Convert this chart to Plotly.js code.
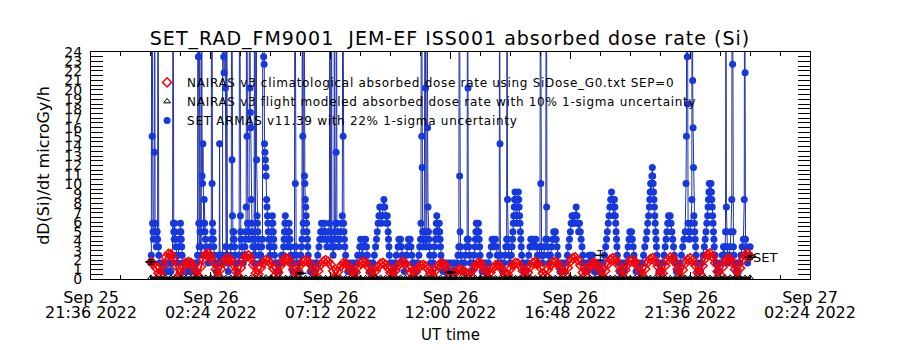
<!DOCTYPE html>
<html><head><meta charset="utf-8">
<script src="https://cdn.plot.ly/plotly-3.0.1.min.js"></script>
<style>
html,body{margin:0;padding:0;background:#fff}
#chart{width:900px;height:350px}
.legendtext{letter-spacing:0.7px}
.gtitle{letter-spacing:1px}
</style>
</head><body><div id="chart"></div>
<script>
const titleText = 'SET_RAD_FM9001  JEM-EF ISS001 absorbed dose rate (Si)';
const yTitle = 'dD(Si)/dt microGy/h';
const xTitle = 'UT time';
const seriesNames = [
  'NAIRAS v3 climatological absorbed dose rate using SiDose_G0.txt SEP=0',
  'NAIRAS v3 flight modeled absorbed dose rate with 10% 1-sigma uncertainty',
  'SET ARMAS v11.39 with 22% 1-sigma uncertainty'
];
const dayStartUTC = '2022-09-26T00:00:00Z';
const xRange = ['2022-09-25 21:36:00', '2022-09-27 02:24:00'];
const xTick0 = '2022-09-25 21:36:00';
const yRange = [0, 24];

// NAIRAS climatological (red), one value every 6 minutes from Sep 26 00:00 UT
const redStepMin = 6;
const redValues = [
  1.8,1.6,1.2,0.6,0.5,1.5,2.3,2.65,2.6,2.2,
  1.4,0.3,0.7,1.3,1.7,1.8,1.7,1.3,0.7,0.3,
  1.3,2.1,2.6,2.7,2.4,1.8,1.0,0.3,1.05,1.7,
  2.1,2.2,2.0,1.5,0.8,0.3,1.2,2.0,2.4,2.5,
  2.2,1.5,0.6,0.5,1.2,1.7,2.0,1.95,1.65,1.1,
  0.4,0.7,1.45,2.0,2.2,2.1,1.65,1.0,0.15,0.85,
  1.5,1.85,2.0,1.85,1.5,0.85,0.15,0.85,1.5,1.85,
  2.0,1.85,1.5,0.85,0.15,0.8,1.35,1.65,1.65,1.4,
  0.9,0.25,0.7,1.3,1.7,1.8,1.7,1.3,0.7,0.25,
  0.85,1.3,1.6,1.7,1.5,1.15,0.65,0.25,0.9,1.4,
  1.7,1.8,1.6,1.25,0.7,0.2,0.75,1.15,1.45,1.5,
  1.35,1.05,0.6,0.25,0.9,1.4,1.65,1.65,1.4,0.9,
  0.25,0.45,0.75,0.95,1.0,0.9,0.7,0.4,0.35,1.0,
  1.45,1.7,1.65,1.3,0.8,0.15,0.7,1.15,1.45,1.5,
  1.3,0.95,0.45,0.45,1.05,1.5,1.7,1.65,1.35,0.85,
  0.25,0.7,1.3,1.7,1.8,1.65,1.2,0.6,0.35,1.0,
  1.45,1.75,1.8,1.6,1.15,0.6,0.45,1.2,1.85,2.2,
  2.3,2.0,1.45,0.7,0.35,1.0,1.45,1.7,1.65,1.4,
  0.9,0.25,0.85,1.55,2.05,2.2,2.05,1.55,0.85,0.25,
  0.95,1.55,1.9,2.0,1.8,1.35,0.75,0.3,1.05,1.75,
  2.1,2.2,1.9,1.35,0.55,0.6,1.4,2.0,2.3,2.2,
  1.75,1.05,0.15,0.95,1.65,2.05,2.2,1.95,1.45,0.7,
  0.5,1.4,2.15,2.6,2.7,2.35,1.7,0.8,0.45,1.25,
  1.9,2.15,2.1,1.7,1.0,0.15,1.15,2.0,2.55,2.7,
  2.4
];

// NAIRAS flight modeled (black), one value every 12 minutes
const blackStepMin = 12;
const blackValues = [
  0.12,0.1,0.08,0.1,0.14,0.1,0.08,0.12,0.1,0.08,
  0.1,0.12,0.14,0.1,0.08,0.1,0.12,0.1,0.08,0.12,
  0.1,0.08,0.1,0.14,0.12,0.1,0.08,0.1,0.12,0.1,
  0.08,0.1,0.12,0.14,0.1,0.08,0.1,0.12,0.1,0.08,
  0.1,0.12,0.1,0.08,0.1,0.14,0.12,0.1,0.08,0.1,
  0.12,0.1,0.08,0.1,0.12,0.14,0.1,0.08,0.1,0.12,
  0.1,0.08,0.1,0.12,0.1,0.08,0.14,0.12,0.1,0.08,
  0.1,0.12,0.1,0.08,0.1,0.12,0.14,0.1,0.08,0.1,
  0.12,0.1,0.08,0.1,0.14,0.12,0.1,0.08,0.1,0.12,
  0.1,0.08,0.1,0.12,0.14,0.1,0.08,0.1,0.12,0.1,
  0.08,0.1,0.12,0.1,0.08,0.1,0.14,0.12,0.1,0.08,
  0.1,0.12,0.1,0.08,0.1,0.12,0.14,0.1,0.08,0.1,
  0.12
];

// six-hourly flight-model points with uncertainty bars (black)
const blackBarMin = [0, 360, 720, 1080, 1440];
const blackBarValues = [1.8, 0.6, 0.7, 2.5, 2.3];
const blackBarErr = [0.25, 0.1, 0.1, 0.5, 0.2];

// SET ARMAS (blue): [minutes after Sep 26 00:00 UT, dose rate]
const bluePoints = [
  [0,1.7],[1,2.5],[2,45],[3,15.1],[4,5.9],[5,5.0],[6,4.2],[7,5.9],[8,13.4],[9,50],[10,5.0],[11,5.9],[12,4.2],[13,3.4],[15,5.0],[16,4.2],[17,40],[18,3.4],[19,2.5],[21,1.7],[24,0.8],
  [27,1.7],[30,0.8],[33,1.7],[36,0.8],[39,1.7],[42,0.8],[45,1.7],[48,0.8],
  [50,1.7],[52,2.5],[53,40],[54,5.9],[55,5.0],[56,4.2],[57,5.9],[58,5.0],[59,4.2],[60,3.4],[62,2.5],[64,1.7],[66,2.5],[68,3.4],[69,4.2],[70,5.0],[71,5.9],[72,5.0],[73,4.2],[74,3.4],[75,2.5],[76,1.7],[78,0.8],
  [81,1.7],[84,0.8],[87,1.7],[90,0.8],[93,1.7],[96,0.8],[99,1.7],[102,0.8],[105,1.7],[108,0.8],
  [110,1.7],[112,2.5],[113,45],[114,23.5],[115,5.9],[116,3.4],[117,40],[118,5.0],[119,3.4],[121,2.5],[122,50],[123,10.9],[124,10.1],[125,14.3],[126,5.9],[127,5.0],[128,8.4],[129,5.9],[130,5.0],[131,4.2],[133,3.4],[135,2.5],
  [138,1.7],[141,2.5],[143,3.4],[145,4.2],[146,60],[147,10.1],[148,5.9],[149,5.0],[150,4.2],[151,3.4],[152,2.5],[154,1.7],[157,0.8],
  [160,1.7],[162,2.5],[164,1.7],[165,14.3],[166,2.5],[167,1.7],[168,2.5],[170,1.7],[172,2.5],[173,45],[175,23.5],[176,21.8],[177,50],[179,20.2],[180,3.4],[181,2.5],[182,40],[183,2.5],[184,1.7],[186,0.8],
  [189,1.7],[191,2.5],[193,3.4],[194,40],[195,12.6],[196,6.7],[197,5.0],[198,4.2],[199,5.0],[200,4.2],[201,3.4],[202,2.5],[204,1.7],[207,0.8],[210,1.7],
  [212,2.5],[213,40],[215,6.7],[216,5.0],[217,4.2],[218,3.4],[220,2.5],[222,1.7],[224,2.5],
  [226,3.4],[227,4.2],[228,5.0],[229,7.6],[230,40],[231,15.1],[232,5.9],[233,5.0],[234,5.9],[235,5.0],[236,4.2],[237,50],[238,20.2],[239,17.6],[240,16.0],[241,8.4],[242,5.9],[243,5.0],[244,4.2],[245,3.4],[246,2.5],
  [248,1.7],[249,40],[251,2.5],[252,3.4],[253,45],[254,12.6],[255,6.7],[256,5.9],[257,5.0],[258,4.2],[259,3.4],[260,2.5],[262,1.7],
  [264,2.5],[266,3.4],[268,4.2],[270,60],[271,23.5],[272,22.7],[273,14.3],[274,13.4],[275,12.6],[276,11.8],[277,10.9],[278,8.4],[279,7.6],[280,6.7],[281,5.9],[282,5.0],[283,4.2],[284,3.4],[286,2.5],
  [288,3.4],[289,4.2],[290,5.0],[291,5.9],[292,6.7],[293,5.9],[294,5.0],[295,4.2],[296,3.4],[297,2.5],[299,1.7],[302,0.8],[305,1.7],[308,0.8],[311,1.7],[314,2.5],
  [316,1.7],[318,2.5],[319,3.4],[320,4.2],[321,5.0],[322,5.9],[323,6.7],[324,5.9],[325,5.0],[327,4.2],[329,3.4],[330,4.2],[331,5.0],[332,5.9],[333,5.0],[334,4.2],[335,3.4],[336,2.5],[338,1.7],[341,0.8],
  [343,1.7],[345,2.5],[346,45],[347,10.1],[348,3.4],[349,2.5],[351,1.7],[354,0.8],[357,1.7],[360,2.5],
  [362,3.4],[363,4.2],[364,40],[365,15.1],[366,5.9],[367,5.0],[368,45],[369,10.9],[370,10.1],[371,8.4],[372,7.6],[373,6.7],[374,5.9],[375,5.0],[376,4.2],[377,3.4],[378,2.5],[380,1.7],[383,0.8],[386,1.7],[389,0.8],[392,1.7],[395,0.8],[398,1.7],[401,2.5],
  [404,3.4],[406,4.2],[408,5.0],[410,5.9],[412,5.0],[413,4.2],[415,5.0],[417,5.9],[419,5.0],[421,4.2],[423,3.4],[425,4.2],[427,5.0],[429,5.9],[430,40],[431,5.0],[432,4.2],[433,3.4],[434,45],[435,4.2],[436,3.4],
  [438,2.5],[440,3.4],[441,50],[442,4.2],[443,5.0],[444,5.9],[445,13.4],[446,50],[447,5.9],[448,5.0],
  [450,4.2],[452,3.4],[454,4.2],[456,5.0],[458,5.9],[460,6.7],[461,40],[462,15.1],[463,5.9],[464,5.0],[465,4.2],[466,3.4],[468,2.5],[470,1.7],[473,0.8],[476,1.7],[479,0.8],[482,1.7],[485,0.8],[488,1.7],[491,0.8],[494,1.7],[497,2.5],
  [500,2.5],[502,3.4],[504,4.2],[506,3.4],[508,2.5],[510,3.4],[512,4.2],[514,3.4],[516,4.2],[518,3.4],[520,2.5],[522,1.7],[525,0.8],[528,1.7],[531,0.8],[534,1.7],[537,2.5],
  [540,3.4],[542,4.2],[544,5.0],[546,5.9],[548,6.7],[550,7.6],[552,6.7],[554,5.9],[556,6.7],[558,7.6],[560,8.4],[562,7.6],[564,6.7],[566,5.9],[568,6.7],[569,5.9],[570,5.0],[571,4.2],[572,3.4],[573,2.5],[575,1.7],[578,0.8],[581,1.7],[584,0.8],[587,1.7],[590,2.5],
  [594,3.4],[596,4.2],[598,3.4],[600,4.2],[602,3.4],[604,2.5],[606,1.7],[609,0.8],[612,1.7],[615,2.5],[617,3.4],[619,4.2],[621,3.4],[623,4.2],[625,3.4],[627,2.5],[629,1.7],[632,0.8],[635,1.7],[638,0.8],[641,1.7],[644,2.5],
  [646,3.4],[648,4.2],[649,5.9],[650,45],[651,15.1],[652,11.8],[653,5.0],[654,4.2],[655,3.4],[656,4.2],[657,5.0],[659,40],[660,20.2],[661,3.4],[662,4.2],[663,5.0],[664,45],[665,16.0],[666,7.6],[667,5.0],[668,4.2],[669,3.4],[670,2.5],[672,1.7],[675,0.8],
  [678,1.7],[680,2.5],[682,3.4],[684,4.2],[685,5.0],[686,5.9],[687,6.7],[688,5.9],[689,5.0],[691,4.2],[692,5.0],[693,5.9],[694,5.0],[695,4.2],[696,3.4],[697,2.5],[699,1.7],[702,0.8],[705,1.7],[708,0.8],[711,1.7],[714,0.8],[717,1.7],[720,0.8],[723,1.7],[726,0.8],[729,1.7],[732,0.8],[735,1.7],[738,2.5],
  [740,3.4],[741,40],[742,10.9],[743,5.0],[744,3.4],[745,2.5],[747,1.7],[750,0.8],[753,1.7],[756,2.5],[758,3.4],[760,4.2],[761,50],[762,20.2],[763,4.2],[764,3.4],[766,2.5],[768,1.7],[771,0.8],[774,1.7],[777,2.5],[779,3.4],[780,4.2],[781,5.0],[782,5.9],[783,5.0],[784,4.2],[786,5.0],[787,5.9],[788,5.0],[789,4.2],[790,3.4],[791,2.5],[793,1.7],[796,0.8],[799,1.7],[802,0.8],[805,1.7],[808,0.8],[811,1.7],[814,2.5],
  [818,3.4],[820,4.2],[822,3.4],[824,4.2],[826,3.4],[828,4.2],[830,3.4],[832,2.5],[835,1.7],[837,2.5],[838,40],[839,14.3],[840,2.5],[842,1.7],[845,0.8],[848,1.7],[851,2.5],[853,3.4],[855,4.2],[856,45],[857,8.4],[858,4.2],[859,3.4],[861,2.5],[863,1.7],[866,2.5],[868,3.4],[869,4.2],[870,5.0],[871,5.9],[872,6.7],[873,7.6],[874,8.4],[875,9.2],[876,8.4],[877,7.6],[878,6.7],[879,5.9],[880,6.7],[881,7.6],[882,8.4],[883,9.2],[884,8.4],[885,7.6],[886,6.7],[887,5.9],[888,5.0],[889,4.2],[890,3.4],[891,2.5],[893,1.7],[896,0.8],[899,1.7],[902,0.8],[905,1.7],[908,2.5],
  [911,3.4],[913,4.2],[915,3.4],[917,4.2],[919,3.4],[921,4.2],[923,3.4],[925,4.2],[927,3.4],[929,2.5],[931,1.7],[933,2.5],[935,3.4],[936,40],[937,10.1],[938,3.4],[939,2.5],[941,1.7],[944,2.5],[946,3.4],[949,4.2],[950,45],[951,7.6],[952,4.2],[953,3.4],[955,2.5],[957,1.7],[960,2.5],[963,3.4],[966,4.2],[968,5.0],[970,4.2],[972,5.0],[974,4.2],[976,3.4],[978,2.5],[980,1.7],[983,0.8],[986,1.7],[989,0.8],[992,1.7],[995,0.8],[998,1.7],[1001,2.5],
  [1004,3.4],[1006,4.2],[1008,5.0],[1010,5.9],[1012,6.7],[1014,5.9],[1016,6.7],[1018,5.9],[1020,6.7],[1022,7.6],[1024,6.7],[1026,5.9],[1028,5.0],[1030,5.9],[1032,5.0],[1034,4.2],[1036,3.4],[1038,2.5],[1040,1.7],[1043,0.8],[1046,1.7],[1049,0.8],
  [1051,1.7],[1053,2.5],[1055,1.7],[1057,2.5],[1059,1.7],[1061,2.5],[1063,1.7],[1066,0.8],[1069,1.7],[1072,0.8],[1075,1.7],[1078,0.8],[1081,1.7],[1084,0.8],[1087,1.7],[1090,2.5],
  [1093,3.4],[1095,4.2],[1097,5.0],[1099,5.9],[1101,6.7],[1103,7.6],[1105,8.4],[1107,9.2],[1109,8.4],[1111,7.6],[1112,6.7],[1113,7.6],[1114,8.4],[1115,7.6],[1116,6.7],[1117,5.9],[1118,5.0],[1119,4.2],[1120,3.4],[1121,2.5],[1123,1.7],[1126,0.8],[1129,1.7],[1132,0.8],[1135,1.7],[1138,0.8],[1141,1.7],[1144,2.5],
  [1147,3.4],[1149,4.2],[1151,5.0],[1153,4.2],[1155,5.0],[1157,4.2],[1159,3.4],[1161,2.5],[1163,1.7],[1166,0.8],[1169,1.7],[1172,0.8],[1175,1.7],[1178,0.8],[1181,1.7],[1184,2.5],[1187,3.4],[1190,4.2],
  [1192,5.0],[1194,5.9],[1196,6.7],[1198,7.6],[1199,8.4],[1200,9.2],[1201,10.1],[1202,9.2],[1203,10.1],[1204,10.9],[1205,11.8],[1206,10.9],[1207,10.1],[1208,9.2],[1209,8.4],[1210,7.6],[1211,6.7],[1212,5.9],[1213,5.0],[1214,4.2],[1215,3.4],[1216,2.5],[1218,1.7],[1221,0.8],[1224,1.7],[1227,0.8],[1230,1.7],[1233,2.5],
  [1236,3.4],[1238,4.2],[1240,5.0],[1242,5.9],[1244,6.7],[1246,5.9],[1248,6.7],[1250,5.9],[1252,5.0],[1254,4.2],[1256,3.4],[1258,2.5],[1260,1.7],[1263,0.8],[1266,1.7],[1269,0.8],[1272,1.7],[1275,2.5],[1278,3.4],[1281,4.2],
  [1284,5.0],[1286,10.1],[1287,15.1],[1288,60],[1289,23.5],[1290,18.5],[1291,5.9],[1292,5.0],[1294,4.2],[1296,5.0],[1298,5.9],[1300,8.4],[1301,60],[1302,21.0],[1303,16.0],[1304,11.8],[1305,6.7],[1306,5.9],[1307,5.0],[1308,4.2],[1309,3.4],[1310,2.5],[1312,1.7],[1315,0.8],[1318,1.7],[1321,0.8],[1324,1.7],[1327,2.5],[1330,3.4],
  [1332,4.2],[1334,5.0],[1336,5.9],[1338,6.7],[1339,7.6],[1340,8.4],[1341,9.2],[1342,10.1],[1343,9.2],[1344,8.4],[1345,9.2],[1346,10.1],[1347,9.2],[1348,8.4],[1349,7.6],[1350,6.7],[1351,5.9],[1352,5.0],[1353,4.2],[1354,3.4],[1356,2.5],[1358,1.7],[1361,0.8],[1364,1.7],[1367,0.8],[1370,1.7],[1373,2.5],[1376,3.4],
  [1378,2.5],[1380,3.4],[1381,5.0],[1382,40],[1383,7.6],[1384,5.0],[1385,3.4],[1386,2.5],[1388,1.7],[1390,2.5],[1392,3.4],[1394,5.0],[1396,8.4],[1397,50],[1398,22.7],[1399,5.0],[1400,3.4],[1401,2.5],[1403,1.7],[1406,0.8],[1409,1.7],[1412,0.8],[1415,1.7],[1418,2.5],[1421,3.4],[1424,4.2],[1426,8.4],[1427,45],[1428,21.8],[1429,4.2],[1430,3.4],[1432,2.5],[1434,1.7],[1437,2.5],[1440,3.4]
];

const setLabelText = 'SET';
const setLabelMin = 1440;
const setLabelValue = 2.3;

// ---- helpers ----
const t0ms = Date.parse(dayStartUTC);
function minToDate(m) {
  return new Date(t0ms + m * 60000).toISOString().slice(0, 19).replace('T', ' ');
}
const redX = redValues.map((v, i) => minToDate(i * redStepMin));
const blackX = blackValues.map((v, i) => minToDate(i * blackStepMin));
const blueX = bluePoints.map(p => minToDate(p[0]));
const blueY = bluePoints.map(p => p[1]);
const barX = blackBarMin.map(minToDate);

const FONT = 'DejaVu Sans, Verdana, sans-serif';
const BLUE_M = '#1538e0';
const BLUE_L = '#2233aa';
const RED = '#ff0000';

const traces = [
  {x: blueX, y: blueY, type: 'scatter', mode: 'lines', line: {color: BLUE_L, width: 1},
   showlegend: false, hoverinfo: 'skip'},
  {x: blueX, y: blueY, type: 'scatter', mode: 'markers', name: seriesNames[2], legendrank: 3,
   marker: {symbol: 'circle', size: 7, color: BLUE_M}},
  {x: redX, y: redValues, type: 'scatter', mode: 'lines', line: {color: RED, width: 2},
   showlegend: false, hoverinfo: 'skip'},
  {x: redX, y: redValues, type: 'scatter', mode: 'markers', name: seriesNames[0], legendrank: 1,
   marker: {symbol: 'diamond-open', size: 7, color: RED, line: {width: 1.5, color: RED}}},
  {x: blackX, y: blackValues, type: 'scatter', mode: 'lines', line: {color: '#000', width: 2.5},
   showlegend: false, hoverinfo: 'skip'},
  {x: blackX, y: blackValues, type: 'scatter', mode: 'markers', name: seriesNames[1], legendrank: 2,
   marker: {symbol: 'triangle-up-open', size: 6, color: '#000', line: {width: 1, color: '#000'}}},
  {x: barX, y: blackBarValues, type: 'scatter', mode: 'markers', showlegend: false,
   marker: {symbol: 'line-ew-open', size: 8, color: '#000', line: {width: 1.5, color: '#000'}},
   error_y: {type: 'data', array: blackBarErr, visible: true, color: '#000', thickness: 1, width: 3}},
  {x: [xRange[0], xRange[1]], y: [null, null], xaxis: 'x2', type: 'scatter', mode: 'markers',
   showlegend: false, hoverinfo: 'skip'}
];

const tickStepMs = 4.8 * 3600 * 1000;
const minorStepMs = 1.2 * 3600 * 1000;

const layout = {
  width: 900, height: 350,
  margin: {l: 91, r: 90, t: 52, b: 71, pad: 0},
  paper_bgcolor: '#ffffff', plot_bgcolor: '#ffffff',
  font: {family: FONT, color: '#000', size: 14},
  title: {text: titleText, font: {family: FONT, size: 19, color: '#000'},
          x: 0.5, xref: 'container', xanchor: 'center', y: 0.89, yref: 'container', yanchor: 'middle'},
  showlegend: true,
  legend: {x: 0.078, y: 0.93, xanchor: 'left', yanchor: 'top', bgcolor: 'rgba(0,0,0,0)',
           borderwidth: 0, font: {family: FONT, size: 12, color: '#000'}, itemwidth: 30,
           tracegroupgap: 0, traceorder: 'normal'},
  xaxis: {
    type: 'date', range: xRange, tick0: xTick0, dtick: tickStepMs, tickformat: '%H:%M %Y',
    ticks: 'inside', ticklen: 7, tickcolor: '#000', tickwidth: 1,
    minor: {dtick: minorStepMs, ticks: 'inside', ticklen: 4, tickcolor: '#000', showgrid: false},
    showline: true, linecolor: '#000', linewidth: 1, mirror: 'allticks',
    showgrid: false, zeroline: false,
    tickfont: {family: FONT, size: 16, color: '#000'}, ticklabelstandoff: 19,
    title: {text: xTitle, font: {family: FONT, size: 15, color: '#000'}, standoff: 8},
    fixedrange: true
  },
  xaxis2: {
    type: 'date', overlaying: 'x', anchor: 'y', side: 'bottom', range: xRange,
    tick0: xTick0, dtick: tickStepMs, tickformat: '%b %d',
    ticks: '', showline: false, showgrid: false, zeroline: false,
    tickfont: {family: FONT, size: 16, color: '#000'}, ticklabelstandoff: 7,
    fixedrange: true
  },
  yaxis: {
    range: yRange, tick0: 0, dtick: 1,
    ticks: 'inside', ticklen: 12, tickcolor: '#000', tickwidth: 1,
    minor: {dtick: 0.5, ticks: 'inside', ticklen: 6, tickcolor: '#000', showgrid: false},
    showline: true, linecolor: '#000', linewidth: 1, mirror: 'allticks',
    showgrid: false, zeroline: false,
    tickfont: {family: FONT, size: 14, color: '#000'}, ticklabelstandoff: 5,
    title: {text: yTitle, font: {family: FONT, size: 16, color: '#000'}, standoff: 10},
    fixedrange: true
  },
  annotations: [
    {x: minToDate(setLabelMin), y: setLabelValue, xref: 'x', yref: 'y', text: setLabelText,
     showarrow: false, xanchor: 'left', yanchor: 'middle', xshift: 1,
     font: {family: FONT, size: 13, color: '#000'}}
  ]
};

Plotly.newPlot('chart', traces, layout, {staticPlot: true, displayModeBar: false});
</script>
</body></html>
